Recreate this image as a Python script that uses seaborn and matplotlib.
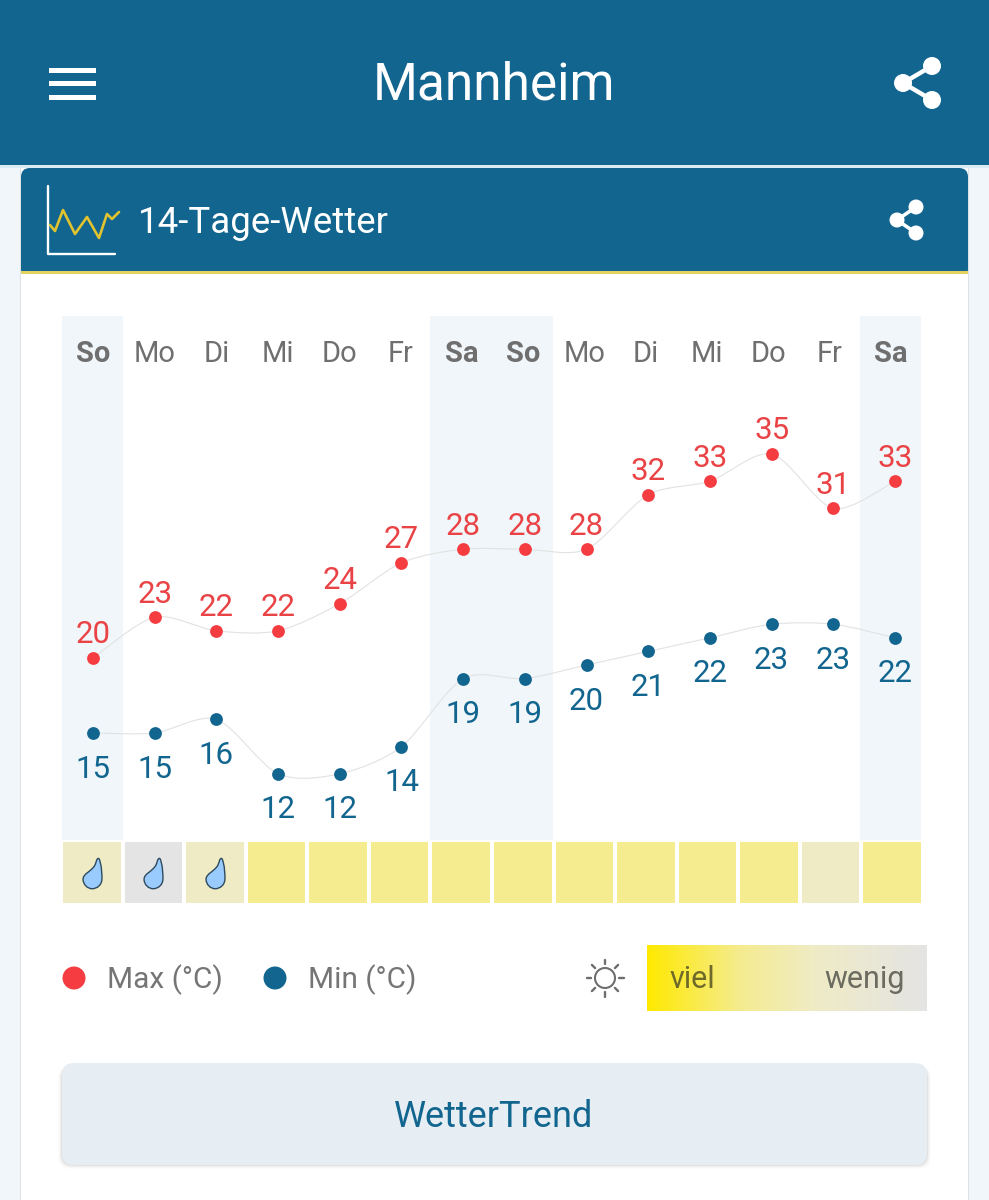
import numpy as np
import pandas as pd
import matplotlib
matplotlib.use("Agg")
import matplotlib.pyplot as plt
from matplotlib.colors import LinearSegmentedColormap
from matplotlib.patches import Circle, FancyBboxPatch, PathPatch, Rectangle
from matplotlib.path import Path
import seaborn as sns

days = ["So", "Mo", "Di", "Mi", "Do", "Fr", "Sa", "So", "Mo", "Di", "Mi", "Do", "Fr", "Sa"]
temp_max = [20, 23, 22, 22, 24, 27, 28, 28, 28, 32, 33, 35, 31, 33]
temp_min = [15, 15, 16, 12, 12, 14, 19, 19, 20, 21, 22, 23, 23, 22]
sun_level = [0.6, 1.0, 0.6, 0.33, 0.33, 0.33, 0.33, 0.33, 0.33, 0.33, 0.33, 0.33, 0.6, 0.33]
rain = [1, 1, 1, 0, 0, 0, 0, 0, 0, 0, 0, 0, 0, 0]

BLUE = "#11658F"
RED = "#F53D41"
RED_TEXT = "#EA4346"
GREY = "#757575"
W, H = 989, 1200

sns.set_theme(style="white")
plt.rcParams["font.family"] = ["Roboto", "DejaVu Sans"]

fig = plt.figure(figsize=(W / 100, H / 100), dpi=100, facecolor="#F1F6FA")


def ax_at(x0, y0, x1, y1, **kw):
    """axes from pixel box, y measured from the top"""
    ax = fig.add_axes([x0 / W, 1 - y1 / H, (x1 - x0) / W, (y1 - y0) / H], **kw)
    ax.patch.set_alpha(0)
    ax.axis("off")
    return ax


def share_icon(ax, nodes, r, lw):
    ax.plot([nodes[0][0], nodes[1][0], nodes[2][0]], [nodes[0][1], nodes[1][1], nodes[2][1]],
            color="white", lw=lw, solid_capstyle="round")
    for n in nodes:
        ax.add_patch(Circle(n, r, color="white", lw=0))


def smooth_curve(ax, x, y):
    # catmull-rom style bezier through the values
    pts = np.column_stack([x, y]).astype(float)
    verts, codes = [pts[0]], [Path.MOVETO]
    for i in range(len(pts) - 1):
        before = pts[max(i - 1, 0)]
        after = pts[min(i + 2, len(pts) - 1)]
        verts += [pts[i] + (pts[i + 1] - before) / 7, pts[i + 1] - (after - pts[i]) / 7, pts[i + 1]]
        codes += [Path.CURVE4] * 3
    ax.add_patch(PathPatch(Path(verts, codes), fc="none", ec="#E2E2E2", lw=0.8))


# page, header and card
page = ax_at(0, 0, W, H)
page.set_xlim(0, W)
page.set_ylim(H, 0)
page.add_patch(Rectangle((20, 165), 949, 1040, fc="#DDE2E5", lw=0))
page.add_patch(Rectangle((21, 165), 947, 1040, fc="white", lw=0))
page.add_patch(Rectangle((0, 0), W, 165, fc=BLUE, lw=0))
page.add_patch(Rectangle((0, 165), W, 3, fc="#DCEAF1", lw=0))
page.add_patch(FancyBboxPatch((21, 168), 947, 110, boxstyle="round,pad=0,rounding_size=9", fc=BLUE, lw=0))
page.add_patch(Rectangle((21, 271), 947, 3, fc="#E4D260", lw=0))
page.add_patch(Rectangle((21, 274), 947, 20, fc="white", lw=0))

for y in [70, 83, 97]:
    page.add_patch(Rectangle((49, y - 2), 47, 4.5, fc="white", lw=0))
page.text(494, 86, "Mannheim", color="white", fontsize=37, ha="center", va="center")
share_icon(page, [(932, 66), (903, 83), (932, 100)], 9, 3.2)

page.plot([48, 48, 115], [186, 254, 254], color="white", lw=1.7)
page.plot([50, 55, 63, 75, 87, 99, 107, 112, 119], [225, 231, 210, 234, 217, 238, 214, 219, 212],
          color="#E0C32E", lw=1.9)
page.text(138, 223, "14-Tage-Wetter", color="white", fontsize=26.4, ha="left", va="center")
share_icon(page, [(916, 207), (897, 220), (916, 233)], 7.5, 2.6)

# weekend bands and weekday names
ax_days = ax_at(62, 316, 921, 841)
ax_days.set_xlim(-0.5, 13.5)
ax_days.set_ylim(0, 1)
for i, d in enumerate(days):
    weekend = d in ("Sa", "So")
    if weekend:
        ax_days.axvspan(i - 0.5, i + 0.5, color="#F0F6FA", lw=0)
    ax_days.annotate(d, xy=(i, 1 - 38 / 525), xycoords=("data", "axes fraction"), xytext=(0.7, 0),
                     textcoords="offset points", ha="center", va="center",
                     color="#6F6F6F", fontsize=21, fontweight="bold" if weekend else "normal")

# temperature series, min axes sits 7px lower like in the app
x_pos = np.arange(len(days))
ax_max = ax_at(93, 386, 895, 794)
ax_min = ax_at(93, 393, 895, 801)
series = [(ax_max, temp_max, RED, RED_TEXT, 16.6), (ax_min, temp_min, BLUE, BLUE, -26)]
for ax, vals, col, text_col, off in series:
    ax.set_xlim(0, 13)
    ax.set_ylim(10, 40)
    df = pd.DataFrame({"day": x_pos, "temp": vals})
    smooth_curve(ax, df["day"], df["temp"])
    sns.scatterplot(data=df, x="day", y="temp", ax=ax, color=col, s=85, linewidth=0, zorder=3, clip_on=False)
    for x, v in zip(x_pos, vals):
        ax.annotate(str(v), xy=(x, v), xytext=(0, off), textcoords="offset points", ha="center", va="center",
                    color=text_col, fontsize=22.5, annotation_clip=False)
    ax.axis("off")

# sunshine strip with rain drops
sun_cmap = LinearSegmentedColormap.from_list(
    "sun", [(0, "#FFE900"), (0.33, "#F5EC8F"), (0.6, "#EFEBC5"), (1, "#E4E4E4")])
ax_sun = ax_at(61, 840, 923, 905)
sns.heatmap(np.array([sun_level]), ax=ax_sun, cmap=sun_cmap, vmin=0, vmax=1, cbar=False,
            linewidths=1.5, linecolor="white", xticklabels=False, yticklabels=False)
ax_sun.axis("off")

drop = Path(
    [(0.42, 1.0), (0.62, 0.55), (0.62, -0.1), (0.62, -0.35), (0.62, -0.75), (0.3, -1.0), (-0.02, -1.0),
     (-0.34, -1.0), (-0.62, -0.72), (-0.62, -0.38), (-0.62, 0.0), (-0.1, 0.1), (0.16, 0.55), (0.26, 0.75), (0.24, 1.0), (0.42, 1.0)],
    [Path.MOVETO] + [Path.CURVE4] * 15)
rain_df = pd.DataFrame({"day": x_pos[np.array(rain) == 1] + 0.5, "row": 0.5})
sns.scatterplot(data=rain_df, x="day", y="row", ax=ax_sun, marker=drop, s=480, color="#99CBFF",
                edgecolor="#2E4A5E", linewidth=1.0, zorder=4, legend=False)
ax_sun.set_xlim(0, 14)
ax_sun.set_ylim(1, 0)

# legend row
for cx, col, label in [(74, RED, "Max (°C)"), (275, BLUE, "Min (°C)")]:
    page.add_patch(Circle((cx, 978), 11.5, fc=col, lw=0))
    page.text(cx + 33, 980, label, color=GREY, fontsize=21.5, ha="left", va="center")

page.add_patch(Circle((605, 978), 10, fc="none", ec="#6E6E6E", lw=1.5))
for a in np.deg2rad(np.arange(0, 360, 45)):
    page.plot([605 + 14 * np.cos(a), 605 + 18.5 * np.cos(a)], [978 + 14 * np.sin(a), 978 + 18.5 * np.sin(a)],
              color="#6E6E6E", lw=1.7)

ax_grad = ax_at(647, 945, 926.5, 1011)
ax_grad.imshow(np.linspace(0, 1, 256)[None, :], cmap=sun_cmap, aspect="auto", vmin=0, vmax=1)
ax_grad.axis("off")
ax_top = ax_at(0, 0, W, H)
ax_top.set_xlim(0, W)
ax_top.set_ylim(H, 0)
ax_top.text(669, 980, "viel", color="#6E6A2A", fontsize=22, ha="left", va="center")
ax_top.text(905, 980, "wenig", color="#6B6B60", fontsize=22, ha="right", va="center")

# button, soft shadow underneath
for grow, alpha in [(4, 0.012), (3, 0.02), (2, 0.03), (1, 0.05)]:
    page.add_patch(FancyBboxPatch((62 - grow, 1066), 865 + 2 * grow, 99 + grow,
                                  boxstyle="round,pad=0,rounding_size=12", fc="black", alpha=alpha, lw=0))
page.add_patch(FancyBboxPatch((62, 1063), 865, 102, boxstyle="round,pad=0,rounding_size=12", fc="#E6EEF4", lw=0))
page.text(494, 1117, "WetterTrend", color=BLUE, fontsize=26, ha="center", va="center")

fig.savefig("out.png", dpi=100, facecolor=fig.get_facecolor())
